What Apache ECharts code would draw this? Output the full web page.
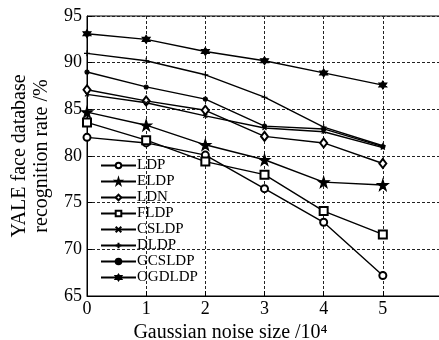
<!DOCTYPE html>
<html>
<head>
<meta charset="utf-8">
<script src="https://cdn.jsdelivr.net/npm/echarts@6/dist/echarts.min.js"></script>
<style>
  html, body { margin: 0; padding: 0; background: #fff; }
  #chart { width: 439px; height: 340px; }
</style>
</head>
<body>
<div id="chart"></div>
<script>
// noise size (x10^4)
const noiseSizes = [0, 1, 2, 3, 4, 5];
const xTicks = [0, 1, 2, 3, 4, 5];
const yTicks = [65, 70, 75, 80, 85, 90, 95];

const ldp    = [82.0, 81.4, 80.1, 76.5, 72.9, 67.2];
const eldp   = [84.7, 83.3, 81.2, 79.6, 77.2, 76.9];
const ldn    = [87.1, 85.9, 84.9, 82.1, 81.4, 79.2];
const fldp   = [83.6, 81.7, 79.4, 78.0, 74.1, 71.6];
const csldp  = [86.6, 85.7, 84.3, 83.0, 82.6, 80.9];
const dldp   = [91.0, 90.2, 88.7, 86.3, 83.1, 81.1];
const gcsldp = [89.0, 87.4, 86.1, 83.2, 82.9, 81.0];
const ogdldp = [93.1, 92.5, 91.2, 90.2, 88.9, 87.6];

const FONT = 'Liberation Serif';
const starPath = 'path://M50,0L61,35L98,35L68,57L79,91L50,70L21,91L32,57L2,35L39,35Z';
const crossPath = 'path://M0,0L10,10M10,0L0,10';
const plusPath = 'path://M5,0L5,10M0,5L10,5';
const hexPath = 'path://M50,0L93,75L7,75ZM50,100L7,25L93,25Z';

function mkSeries(name, data, symbol, symbolSize) {
    return {
        name: name,
        type: 'line',
        data: data.map((v, i) => [noiseSizes[i], v]),
        symbol: symbol,
        symbolSize: symbolSize,
        showSymbol: true,
        lineStyle: { color: '#000', width: 1.4 },
        itemStyle: { color: '#000', borderColor: '#000', borderWidth: 1.1 },
        emphasis: { disabled: true },
        z: 3
    };
}

const chart = echarts.init(document.getElementById('chart'));
const options = {
    animation: false,
    backgroundColor: '#fff',
    grid: {
        left: 87, right: -3, top: 16, bottom: 44,
        outerBoundsMode: 'none',
        containLabel: false,
        show: true, borderColor: '#000', borderWidth: 1
    },
    legend: {
        orient: 'vertical',
        left: 100,
        top: 158,
        itemWidth: 35,
        itemHeight: 7,
        itemGap: 1,
        padding: 0,
        textStyle: { fontFamily: FONT, fontSize: 15, color: '#000', lineHeight: 14, padding: [0, 0, 0, -4] },
        data: ['LDP', 'ELDP', 'LDN', 'FLDP', 'CSLDP', 'DLDP', 'GCSLDP', 'OGDLDP']
    },
    xAxis: {
        type: 'value',
        min: 0, max: 6, interval: 1,
        name: 'Gaussian noise size /10\u2074',
        nameLocation: 'middle',
        nameGap: 26,
        nameTextStyle: { fontFamily: FONT, fontSize: 20, color: '#000', padding: [0, 68, 0, 0] },
        axisLine: { lineStyle: { color: '#000', width: 1 } },
        axisTick: { inside: true, length: 5, lineStyle: { color: '#000' } },
        axisLabel: {
            fontFamily: FONT, fontSize: 18, color: '#000', margin: 4,
            formatter: v => (xTicks.indexOf(v) >= 0 ? String(v) : '')
        },
        splitLine: { show: true, lineStyle: { color: '#222', type: [3, 2], width: 1 } }
    },
    yAxis: {
        type: 'value',
        min: 65, max: 95, interval: 5,
        name: 'YALE face database\nrecognition rate /%',
        nameLocation: 'middle',
        nameRotate: 90,
        nameGap: 34,
        nameTextStyle: { fontFamily: FONT, fontSize: 20, color: '#000', lineHeight: 22 },
        axisLine: { show: true, lineStyle: { color: '#000', width: 1 } },
        axisTick: { inside: true, length: 5, lineStyle: { color: '#000' } },
        axisLabel: {
            fontFamily: FONT, fontSize: 18, color: '#000', margin: 5,
            formatter: v => (yTicks.indexOf(v) >= 0 ? String(v) : '')
        },
        splitLine: { show: true, lineStyle: { color: '#222', type: [3, 2], width: 1 } }
    },
    series: [
        mkSeries('LDP', ldp, 'emptyCircle', 7),
        mkSeries('ELDP', eldp, starPath, 11),
        mkSeries('LDN', ldn, 'emptyDiamond', [7, 9]),
        mkSeries('FLDP', fldp, 'emptyRect', 8),
        mkSeries('CSLDP', csldp, crossPath, 4),
        mkSeries('DLDP', dldp, plusPath, 6),
        mkSeries('GCSLDP', gcsldp, 'circle', 4),
        mkSeries('OGDLDP', ogdldp, hexPath, 8)
    ]
};
chart.setOption(options, { notMerge: true });
</script>
</body>
</html>
